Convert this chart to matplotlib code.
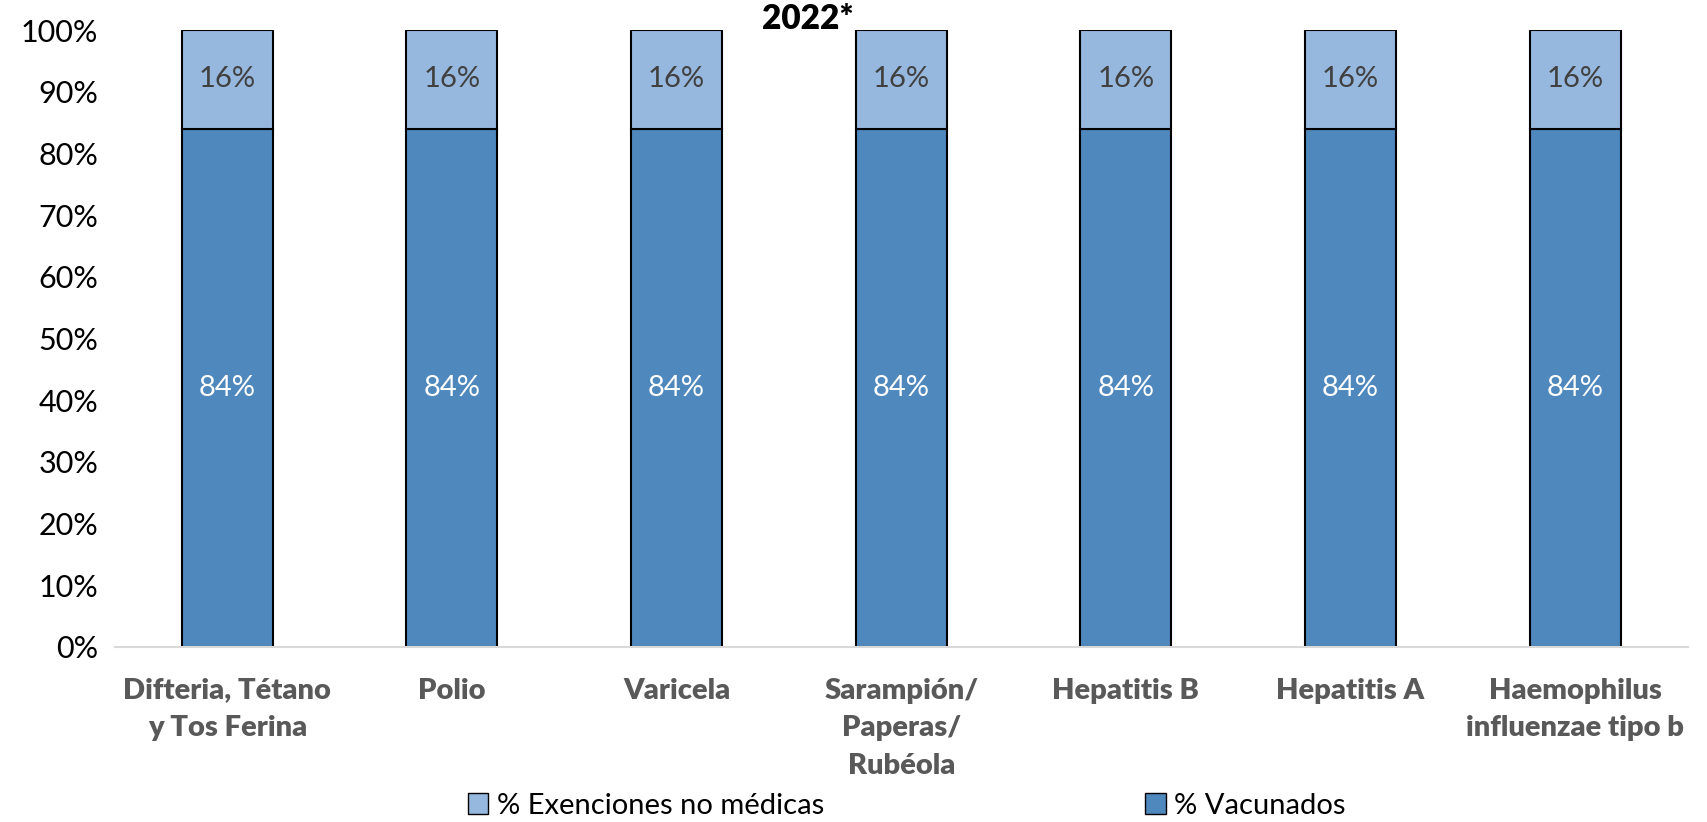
import numpy as np
import matplotlib.pyplot as plt
from matplotlib.patches import Patch

# data
categorias = ['Difteria, Tétano\ny Tos Ferina', 'Polio', 'Varicela',
              'Sarampión/\nPaperas/\nRubéola', 'Hepatitis B', 'Hepatitis A',
              'Haemophilus\ninfluenzae tipo b']
vacunados = [84, 84, 84, 84, 84, 84, 84]
exenciones = [16, 16, 16, 16, 16, 16, 16]

c_vac = '#4F88BC'
c_exe = '#97B8DE'

plt.rcParams['font.family'] = ['Lato', 'DejaVu Sans']

fig = plt.figure(figsize=(17.08, 8.22), dpi=100)
ax = fig.add_axes([0.0673, 0.2129, 0.9207, 0.7506])

x = np.arange(len(categorias))
w = 0.405
b1 = ax.bar(x, vacunados, w, color=c_vac, edgecolor='black', linewidth=1.5)
b2 = ax.bar(x, exenciones, w, bottom=vacunados, color=c_exe, edgecolor='black', linewidth=1.5)

for i in range(len(x)):
    ax.text(x[i], vacunados[i] / 2, '%d%%' % vacunados[i], ha='center', va='center',
            color='white', fontsize=21)
    ax.text(x[i], vacunados[i] + exenciones[i] / 2, '%d%%' % exenciones[i], ha='center',
            va='center', color='#404040', fontsize=21)

ax.set_xlim(-0.5, len(x) - 0.5)
ax.set_ylim(0, 100)
ax.set_yticks(np.arange(0, 101, 10))
ax.set_yticklabels(['%d%%' % v for v in range(0, 101, 10)], fontsize=22)
ax.set_xticks(x)
ax.set_xticklabels(categorias, fontsize=21, fontweight='heavy', color='#595959',
                   linespacing=1.55, va='top')
ax.tick_params(axis='both', length=0)
ax.tick_params(axis='x', pad=22)
ax.tick_params(axis='y', pad=12)
for s in ['top', 'right', 'left']:
    ax.spines[s].set_visible(False)
ax.spines['bottom'].set_color('#D9D9D9')
ax.spines['bottom'].set_linewidth(1.5)

fig.text(0.473, 0.977, '2022*', ha='center', va='center', fontsize=24, fontweight='heavy')

handles = [Patch(facecolor=c_exe, edgecolor='black', label='% Exenciones no médicas'),
           Patch(facecolor=c_vac, edgecolor='black', label='% Vacunados')]
fig.legend(handles=handles, loc='center', bbox_to_anchor=(0.531, 0.02), ncol=2,
           frameon=False, fontsize=21, handlelength=0.7, handleheight=0.7,
           handletextpad=0.3, columnspacing=11)

fig.savefig('out.png', dpi=100)
